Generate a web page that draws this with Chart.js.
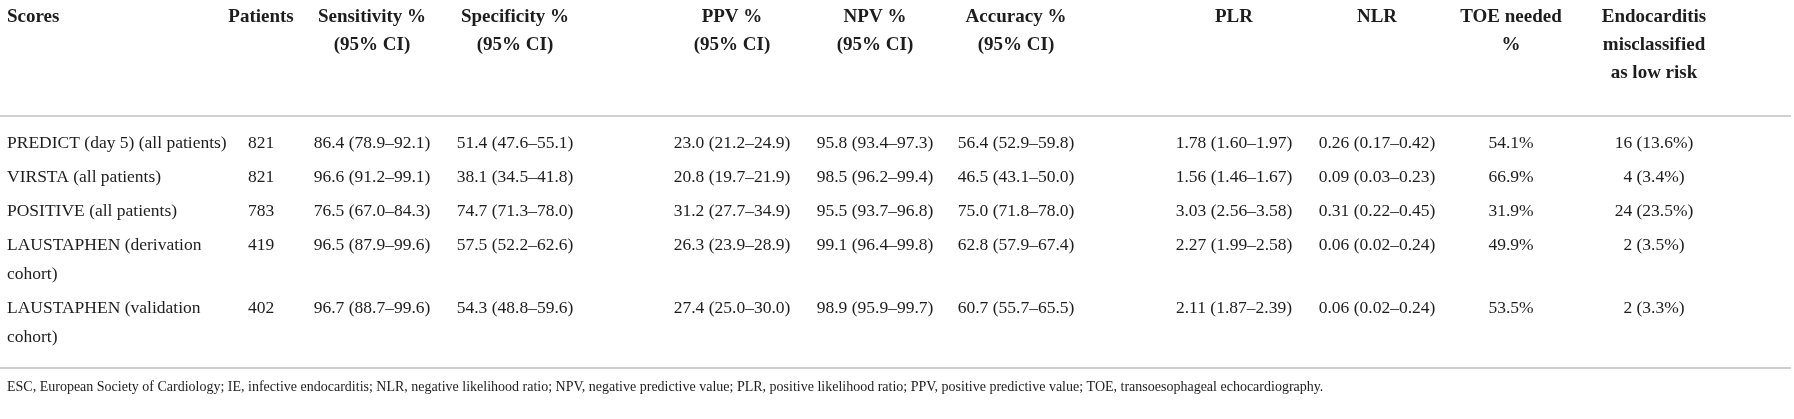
<!DOCTYPE html>
<html>
<head>
<meta charset="utf-8">
<title>Scores table</title>
<script src="https://cdn.jsdelivr.net/npm/chart.js@4.4.1/dist/chart.umd.min.js"></script>
<style>
  html, body { margin: 0; padding: 0; background: #ffffff; }
  #wrap { width: 1794px; height: 419px; position: relative; }
</style>
</head>
<body>
<div id="wrap"><canvas id="tableChart"></canvas></div>
<script>
// Table content
const headers = [
    'Scores', 'Patients', 'Sensitivity %\n(95% CI)', 'Specificity %\n(95% CI)',
    'PPV %\n(95% CI)', 'NPV %\n(95% CI)', 'Accuracy %\n(95% CI)', 'PLR', 'NLR',
    'TOE needed\n%', 'Endocarditis\nmisclassified\nas low risk'
];
const scores = [
    'PREDICT (day 5) (all patients)',
    'VIRSTA (all patients)',
    'POSITIVE (all patients)',
    'LAUSTAPHEN (derivation cohort)',
    'LAUSTAPHEN (validation cohort)'
];
const patients = ['821', '821', '783', '419', '402'];
const sensitivity = ['86.4 (78.9–92.1)', '96.6 (91.2–99.1)', '76.5 (67.0–84.3)', '96.5 (87.9–99.6)', '96.7 (88.7–99.6)'];
const specificity = ['51.4 (47.6–55.1)', '38.1 (34.5–41.8)', '74.7 (71.3–78.0)', '57.5 (52.2–62.6)', '54.3 (48.8–59.6)'];
const ppv = ['23.0 (21.2–24.9)', '20.8 (19.7–21.9)', '31.2 (27.7–34.9)', '26.3 (23.9–28.9)', '27.4 (25.0–30.0)'];
const npv = ['95.8 (93.4–97.3)', '98.5 (96.2–99.4)', '95.5 (93.7–96.8)', '99.1 (96.4–99.8)', '98.9 (95.9–99.7)'];
const accuracy = ['56.4 (52.9–59.8)', '46.5 (43.1–50.0)', '75.0 (71.8–78.0)', '62.8 (57.9–67.4)', '60.7 (55.7–65.5)'];
const plr = ['1.78 (1.60–1.97)', '1.56 (1.46–1.67)', '3.03 (2.56–3.58)', '2.27 (1.99–2.58)', '2.11 (1.87–2.39)'];
const nlr = ['0.26 (0.17–0.42)', '0.09 (0.03–0.23)', '0.31 (0.22–0.45)', '0.06 (0.02–0.24)', '0.06 (0.02–0.24)'];
const toeNeeded = ['54.1%', '66.9%', '31.9%', '49.9%', '53.5%'];
const misclassified = ['16 (13.6%)', '4 (3.4%)', '24 (23.5%)', '2 (3.5%)', '2 (3.3%)'];
const footnote = 'ESC, European Society of Cardiology; IE, infective endocarditis; NLR, negative likelihood ratio; ' +
    'NPV, negative predictive value; PLR, positive likelihood ratio; PPV, positive predictive value; ' +
    'TOE, transoesophageal echocardiography.';

const bodyColumns = [scores, patients, sensitivity, specificity, ppv, npv, accuracy, plr, nlr, toeNeeded, misclassified];

// Layout (pixels)
const W = 1794, H = 419;
const colX = [7, 261, 372, 515, 732, 875, 1016, 1234, 1377, 1511, 1654];
const scoresMaxWidth = 228;
const headFont = 'bold 19px "Liberation Serif", serif';
const bodyFont = '17.5px "Liberation Serif", serif';
const noteFont = '14px "Liberation Serif", serif';
const textColor = '#1d1d1d';
const ruleColor = '#cfcfcf';
const headTop = 17, headPitch = 28;
const headRule = 116;
const bodyTop = 143, rowPitch = 34, linePitch = 29;
const footRule = 368, noteY = 387;

// wrap the first column by measuring the text
const measureCtx = document.createElement('canvas').getContext('2d');
measureCtx.font = bodyFont;
function wrap(text, maxWidth) {
    const words = text.split(' ');
    const lines = [];
    let line = '';
    words.forEach(function (w) {
        const test = line ? line + ' ' + w : w;
        if (line && measureCtx.measureText(test).width > maxWidth) {
            lines.push(line);
            line = w;
        } else {
            line = test;
        }
    });
    lines.push(line);
    return lines;
}

// row positions from the line count of each row
const rowLines = scores.map(function (s) { return wrap(s, scoresMaxWidth); });
const rowY = [];
let yCursor = bodyTop;
rowLines.forEach(function (lines) {
    rowY.push(yCursor);
    yCursor += rowPitch + (lines.length - 1) * linePitch;
});

const datasets = [];

// header cells
datasets.push({
    type: 'scatter',
    label: 'header',
    data: headers.map(function (h, c) { return { x: colX[c], y: headTop, text: h.split('\n'), align: c === 0 ? 'left' : 'center' }; }),
    pointRadius: 0,
    cellFont: headFont,
    cellPitch: headPitch
});

// body cells, one dataset per column
bodyColumns.forEach(function (col, c) {
    datasets.push({
        type: 'scatter',
        label: 'col' + c,
        data: col.map(function (v, r) {
            return { x: colX[c], y: rowY[r], text: c === 0 ? rowLines[r] : [v], align: c === 0 ? 'left' : 'center' };
        }),
        pointRadius: 0,
        cellFont: bodyFont,
        cellPitch: linePitch
    });
});

// footnote
datasets.push({
    type: 'scatter',
    label: 'note',
    data: [{ x: colX[0], y: noteY, text: [footnote], align: 'left' }],
    pointRadius: 0,
    cellFont: noteFont,
    cellPitch: 20
});

// horizontal rules
[headRule, footRule].forEach(function (y, i) {
    datasets.push({
        type: 'line',
        label: 'rule' + i,
        data: [{ x: 0, y: y }, { x: W - 3, y: y }],
        borderColor: ruleColor,
        borderWidth: 2,
        pointRadius: 0,
        fill: false
    });
});

// draw the text of each cell at its point position
const cellText = {
    id: 'cellText',
    afterDatasetsDraw: function (chart) {
        const ctx = chart.ctx;
        ctx.save();
        ctx.fillStyle = textColor;
        ctx.textBaseline = 'middle';
        chart.data.datasets.forEach(function (ds, i) {
            if (!ds.cellFont) return;
            const meta = chart.getDatasetMeta(i);
            ctx.font = ds.cellFont;
            meta.data.forEach(function (el, j) {
                const cell = ds.data[j];
                ctx.textAlign = cell.align;
                cell.text.forEach(function (line, k) {
                    ctx.fillText(line, el.x, el.y + k * ds.cellPitch);
                });
            });
        });
        ctx.restore();
    }
};

new Chart(document.getElementById('tableChart').getContext('2d'), {
    data: { datasets: datasets },
    options: {
        responsive: true,
        maintainAspectRatio: false,
        animation: false,
        layout: { padding: 0 },
        plugins: { legend: { display: false }, tooltip: { enabled: false } },
        scales: {
            x: { type: 'linear', min: 0, max: W, display: false },
            y: { type: 'linear', min: 0, max: H, reverse: true, display: false }
        }
    },
    plugins: [cellText]
});
</script>
</body>
</html>
